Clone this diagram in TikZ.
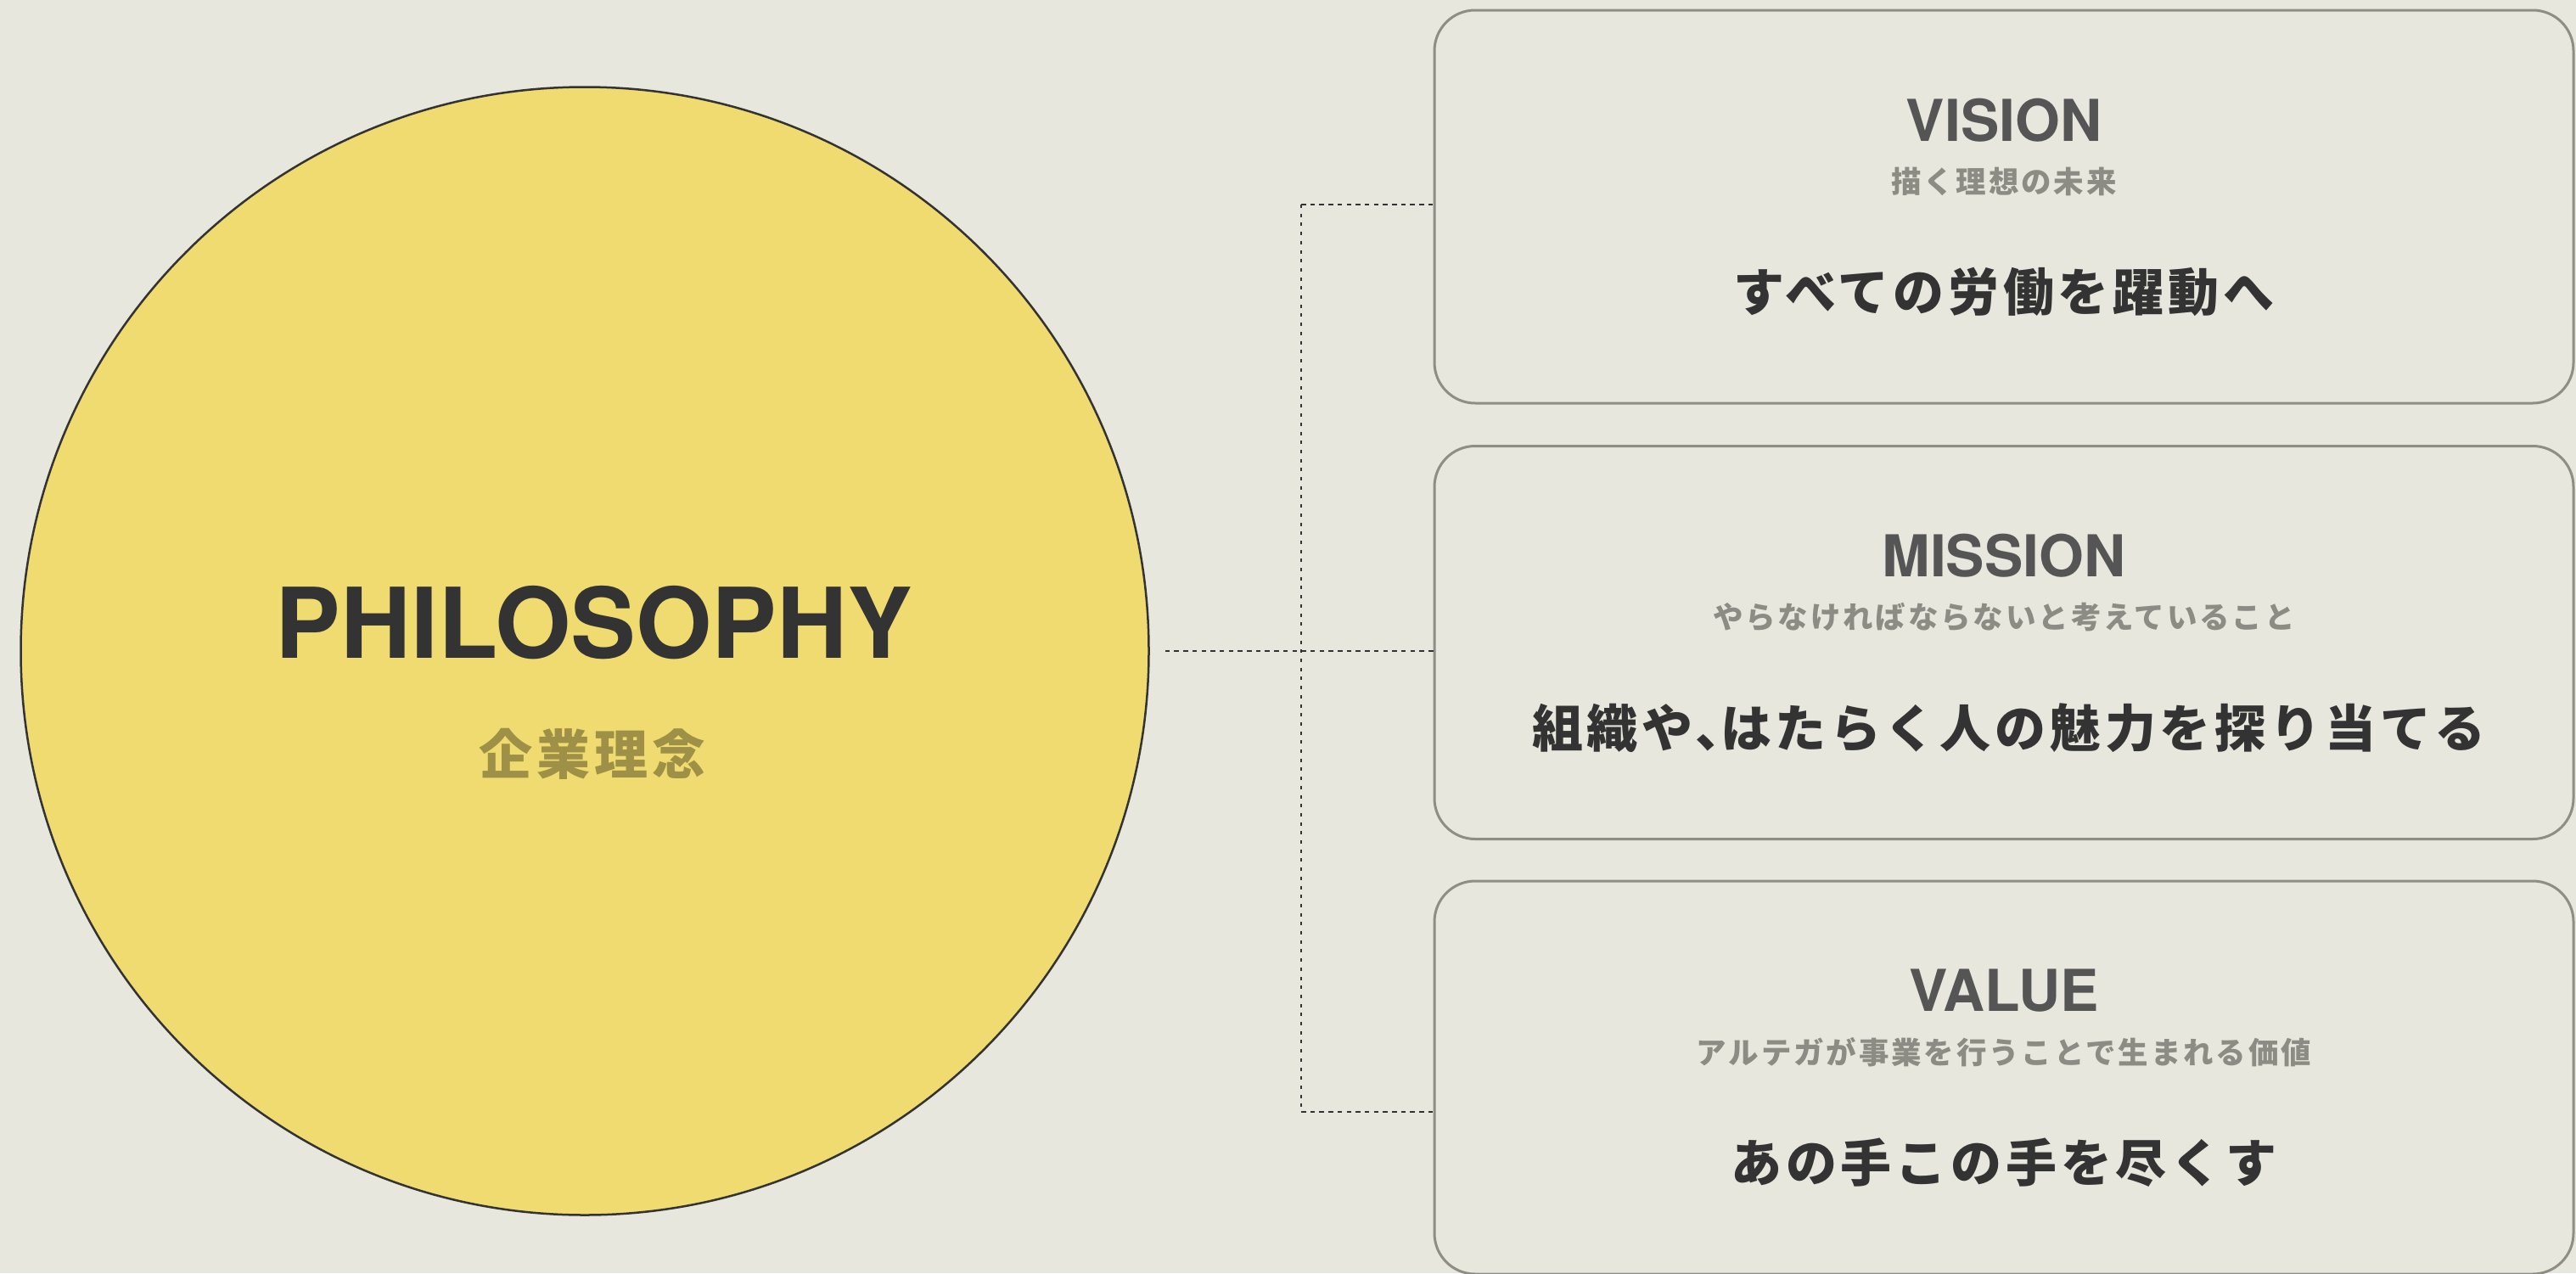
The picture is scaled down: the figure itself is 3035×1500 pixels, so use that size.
\documentclass[tikz,border=0pt]{standalone}
\usepackage{fontspec}
\newfontfamily\latf{TeX Gyre Heros}
\newfontfamily\jpf{Noto Sans CJK JP}
\newfontfamily\jpfs{Noto Sans CJK JP}[LetterSpace=8]
\definecolor{bgc}{HTML}{E7E7DD}
\definecolor{circfill}{HTML}{EFDB6F}
\definecolor{ink}{HTML}{333333}
\definecolor{boxline}{HTML}{8E8E86}
\definecolor{headc}{HTML}{555555}
\definecolor{subc}{HTML}{8C8C84}
\definecolor{olivec}{HTML}{9E9047}
\tikzset{
  philo/.style={circle, draw=ink, line width=2.5pt, fill=circfill, minimum size=1329pt, inner sep=0pt},
  card/.style={draw=boxline, line width=3pt, rounded corners=48pt, minimum width=1342pt, minimum height=463pt, inner sep=0pt},
  headtxt/.style={inner sep=0pt, text=headc, font=\latf\bfseries\fontsize{68}{80}\selectfont},
  subtxt/.style={inner sep=0pt, text=subc, font=\jpfs\bfseries\fontsize{35.5}{42}\selectfont},
  maintxt/.style={inner sep=0pt, text=ink, font=\jpfs\bfseries\fontsize{60}{72}\selectfont},
  hdash/.style={draw=ink, line width=2.7pt, dash pattern=on 5.5pt off 5.2pt},
  vdot/.style={draw=ink, line width=2.7pt, dash pattern=on 4pt off 6.7pt}
}
\begin{document}
\begin{tikzpicture}[x=1pt, y=-1pt]
\fill[bgc] (0,0) rectangle (3035,1500);
\useasboundingbox (0,0) rectangle (3035,1500);
% circle
\node[philo] (phil) at (689,767) {};
\node[inner sep=0pt, text=ink, font=\latf\bfseries\fontsize{115}{130}\selectfont] (philt) at (700,733.5) {PHILOSOPHY};
\node[inner sep=0pt, text=olivec, font=\jpfs\bfseries\fontsize{63}{75}\selectfont] (philj) at (698,888) {企業理念};
% cards
\node[card] (vis) at (2361,243.5) {};
\node[card] (mis) at (2361,757) {};
\node[card] (val) at (2361,1269.5) {};
\node[headtxt] (vish) at ([yshift=-131pt]vis.north) {VISION};
\node[subtxt] (viss) at ([yshift=-203pt]vis.north) {描く理想の未来};
\node[maintxt] (vism) at ([yshift=-333.5pt]vis.north) {すべての労働を躍動へ};
\node[headtxt] (mish) at ([yshift=-131pt]mis.north) {MISSION};
\node[subtxt] (miss) at ([yshift=-203pt]mis.north) {やらなければならないと考えていること};
\node[maintxt, xshift=6pt] (mism) at ([yshift=-333.5pt]mis.north) {組織や、\kern-0.5em はたらく人の魅力を探り当てる};
\node[headtxt] (valh) at ([yshift=-131pt]val.north) {VALUE};
\node[subtxt] (vals) at ([yshift=-203pt]val.north) {アルテガが事業を行うことで生まれる価値};
\node[maintxt] (valm) at ([yshift=-333.5pt]val.north) {あの手この手を尽くす};
% connectors
\coordinate (jt) at (1533,241);
\coordinate (jb) at (1533,1310);
\draw[vdot] (jt) -- (jb);
\draw[hdash] (jt) -- (jt -| vis.west);
\draw[hdash] (jb) -- (jb -| val.west);
\draw[hdash] ([xshift=18pt]phil.east) -- (phil.east -| mis.west);
\end{tikzpicture}
\end{document}
